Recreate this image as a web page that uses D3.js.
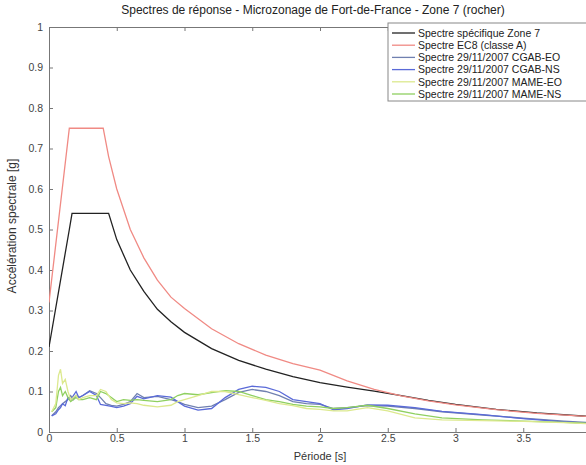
<!DOCTYPE html>
<html>
<head>
<meta charset="utf-8">
<script src="https://cdn.jsdelivr.net/npm/d3@7"></script>
<style>
  body { margin: 0; background: #fff; }
  svg { font-family: 'Liberation Sans', Arial, sans-serif; }
</style>
</head>
<body>
<div id="chart"></div>
<script>
// data
const titleText = 'Spectres de réponse - Microzonage de Fort-de-France - Zone 7 (rocher)'
const xTicks = [0, 0.5, 1, 1.5, 2, 2.5, 3, 3.5, 4]
const xTickLabels = ['0', '0.5', '1', '1.5', '2', '2.5', '3', '3.5', '']
const yTicks = [0, 0.1, 0.2, 0.3, 0.4, 0.5, 0.6, 0.7, 0.8, 0.9, 1]

const designPeriods = [0, 0.15, 0.17, 0.4, 0.44, 0.5, 0.6, 0.7, 0.8, 0.9, 1.0, 1.2, 1.4, 1.6, 1.8, 2.0, 2.2, 2.4, 2.6, 2.8, 3.0, 3.3, 3.6, 4.0]
const zone7Values = [0.21, 0.5, 0.54, 0.54, 0.54, 0.475, 0.4, 0.347, 0.303, 0.272, 0.246, 0.206, 0.177, 0.155, 0.137, 0.122, 0.111, 0.101, 0.09, 0.078, 0.068, 0.056, 0.047, 0.038]
const ec8Values = [0.32, 0.75, 0.75, 0.75, 0.68, 0.6, 0.5, 0.43, 0.375, 0.333, 0.305, 0.255, 0.218, 0.19, 0.169, 0.153, 0.126, 0.105, 0.089, 0.077, 0.067, 0.055, 0.046, 0.038]

const recPeriods = [0.02, 0.05, 0.07, 0.085, 0.1, 0.12, 0.14, 0.16, 0.18, 0.2, 0.22, 0.25, 0.3, 0.35, 0.38, 0.42, 0.46, 0.5, 0.55, 0.6, 0.65, 0.7, 0.8, 0.9, 0.95, 1.0, 1.1, 1.2, 1.3, 1.4, 1.5, 1.6, 1.7, 1.8, 1.9, 2.0, 2.1, 2.2, 2.35, 2.5, 2.7, 2.9, 3.2, 3.5, 3.8, 4.0]
const cgabEO = [0.04, 0.05, 0.06, 0.065, 0.07, 0.075, 0.08, 0.09, 0.08, 0.09, 0.085, 0.09, 0.102, 0.095, 0.085, 0.07, 0.066, 0.064, 0.068, 0.075, 0.095, 0.085, 0.088, 0.08, 0.075, 0.068, 0.06, 0.064, 0.08, 0.098, 0.105, 0.1, 0.09, 0.075, 0.07, 0.068, 0.058, 0.06, 0.065, 0.064, 0.058, 0.05, 0.042, 0.034, 0.027, 0.023]
const cgabNS = [0.04, 0.045, 0.055, 0.06, 0.07, 0.065, 0.085, 0.078, 0.09, 0.1, 0.085, 0.09, 0.1, 0.09, 0.068, 0.066, 0.063, 0.06, 0.064, 0.07, 0.088, 0.082, 0.09, 0.086, 0.075, 0.064, 0.054, 0.058, 0.085, 0.105, 0.113, 0.11, 0.1, 0.08, 0.075, 0.07, 0.055, 0.058, 0.067, 0.066, 0.06, 0.051, 0.043, 0.033, 0.025, 0.021]
const mameEO = [0.05, 0.07, 0.14, 0.155, 0.12, 0.13, 0.1, 0.08, 0.085, 0.09, 0.08, 0.085, 0.09, 0.09, 0.105, 0.1, 0.08, 0.072, 0.07, 0.072, 0.07, 0.066, 0.062, 0.066, 0.075, 0.08, 0.09, 0.1, 0.1, 0.092, 0.085, 0.078, 0.07, 0.065, 0.058, 0.056, 0.052, 0.052, 0.06, 0.052, 0.035, 0.03, 0.028, 0.026, 0.023, 0.02]
const mameNS = [0.05, 0.06, 0.1, 0.11, 0.09, 0.1, 0.085, 0.075, 0.08, 0.085, 0.08, 0.08, 0.085, 0.08, 0.1, 0.095, 0.085, 0.075, 0.08, 0.078, 0.08, 0.078, 0.075, 0.08, 0.09, 0.095, 0.092, 0.097, 0.102, 0.1, 0.09, 0.08, 0.075, 0.068, 0.064, 0.062, 0.058, 0.06, 0.066, 0.058, 0.045, 0.035, 0.03, 0.027, 0.024, 0.021]

const seriesNames = ['Spectre spécifique Zone 7', 'Spectre EC8 (classe A)', 'Spectre 29/11/2007 CGAB-EO', 'Spectre 29/11/2007 CGAB-NS', 'Spectre 29/11/2007 MAME-EO', 'Spectre 29/11/2007 MAME-NS']
const seriesColors = ['#222222', '#f08a84', '#7080b0', '#5a6ad8', '#dce98e', '#8fd060']

// init
const width = 586
const height = 465
const plotLeft = 49
const plotRight = 591
const plotTop = 27
const plotBottom = 432

const svg = d3.select('#chart').append('svg').attr('width', width).attr('height', height)

const x = d3.scaleLinear().domain([0, 4]).range([plotLeft, plotRight])
const y = d3.scaleLinear().domain([0, 1]).range([plotBottom, plotTop])

svg.append('defs').append('clipPath').attr('id', 'plotClip')
  .append('rect').attr('x', plotLeft).attr('y', plotTop).attr('width', plotRight - plotLeft).attr('height', plotBottom - plotTop)

// title
svg.append('text')
  .attr('x', 313).attr('y', 14)
  .attr('text-anchor', 'middle')
  .style('font-size', '12px')
  .attr('fill', '#222')
  .text(titleText)

// axes, matlab style ticks pointing inward
const axisColor = '#777'
svg.append('g').attr('transform', `translate(0,${plotBottom})`)
  .call(d3.axisBottom(x).tickValues(xTicks).tickSize(-4).tickPadding(3).tickFormat((d, i) => xTickLabels[i]))
svg.append('g').attr('transform', `translate(0,${plotTop})`)
  .call(d3.axisTop(x).tickValues(xTicks).tickSize(-4).tickFormat(''))
svg.append('g').attr('transform', `translate(${plotLeft},0)`)
  .call(d3.axisLeft(y).tickValues(yTicks).tickSize(-4).tickPadding(6).tickFormat(d3.format('')))
svg.selectAll('.domain').attr('stroke', axisColor)
svg.selectAll('.tick line').attr('stroke', axisColor)
svg.selectAll('.tick text').attr('fill', '#444').style('font-size', '10.5px').style('font-family', 'Liberation Sans, Arial, sans-serif')

// axis labels
svg.append('text')
  .attr('x', 320).attr('y', 460)
  .attr('text-anchor', 'middle')
  .style('font-size', '11px').attr('fill', '#333')
  .text('Période [s]')
svg.append('text')
  .attr('transform', 'translate(16,226)rotate(-90)')
  .attr('text-anchor', 'middle')
  .style('font-size', '12px').attr('fill', '#333')
  .text('Accélération spectrale [g]')

// curves
const line = d3.line().x(d => x(d[0])).y(d => y(d[1]))
const plot = svg.append('g').attr('clip-path', 'url(#plotClip)')

const recordings = [cgabEO, cgabNS, mameNS, mameEO]
const recColors = [seriesColors[2], seriesColors[3], seriesColors[5], seriesColors[4]]
recordings.forEach((vals, i) => {
  plot.append('path')
    .attr('d', line(recPeriods.map((t, j) => [t, vals[j]])))
    .attr('fill', 'none')
    .attr('stroke', recColors[i])
    .attr('stroke-width', 1.3)
})

plot.append('path')
  .attr('d', line(designPeriods.map((t, j) => [t, zone7Values[j]])))
  .attr('fill', 'none').attr('stroke', seriesColors[0]).attr('stroke-width', 1.3)
plot.append('path')
  .attr('d', line(designPeriods.map((t, j) => [t, ec8Values[j]])))
  .attr('fill', 'none').attr('stroke', seriesColors[1]).attr('stroke-width', 1.3)

// legend
const legend = svg.append('g').attr('transform', 'translate(388,23)')
legend.append('rect')
  .attr('width', 210).attr('height', 78)
  .attr('fill', '#fff').attr('stroke', '#888')
seriesNames.forEach((name, i) => {
  const ly = 10 + i * 12.2
  legend.append('line')
    .attr('x1', 4).attr('x2', 27).attr('y1', ly).attr('y2', ly)
    .attr('stroke', seriesColors[i]).attr('stroke-width', 1.3)
  legend.append('text')
    .attr('x', 30).attr('y', ly + 3.8)
    .style('font-size', '10.5px').attr('fill', '#222')
    .text(name)
})
</script>
</body>
</html>
